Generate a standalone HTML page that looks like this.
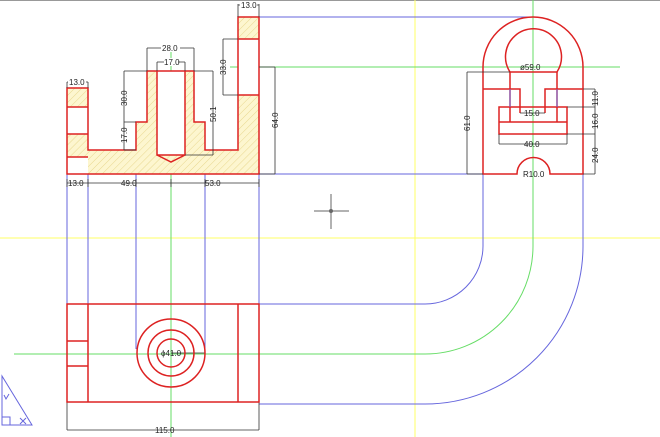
<!DOCTYPE html>
<html><head><meta charset="utf-8"><style>
html,body{margin:0;padding:0;background:#fff;}
svg{display:block;}
text{font-family:"Liberation Sans",sans-serif;font-size:8px;fill:#222;}
</style></head><body>
<svg width="660" height="437" viewBox="0 0 660 437" xmlns="http://www.w3.org/2000/svg">
<defs>
<pattern id="h" patternUnits="userSpaceOnUse" width="5" height="5" patternTransform="rotate(45)">
<rect width="5" height="5" fill="#fdf6cf"/><line x1="0" y1="0" x2="0" y2="5" stroke="#e8d890" stroke-width="1"/>
</pattern>
</defs>
<line x1="0" y1="0.5" x2="660" y2="0.5" stroke="#999"/>
<!-- yellow axes -->
<line x1="0" y1="238" x2="660" y2="238" stroke="#ffff66"/>
<line x1="415" y1="0" x2="415" y2="437" stroke="#ffff66"/>
<!-- green center lines -->
<line x1="171" y1="48" x2="171" y2="437" stroke="#66dd66"/>
<line x1="230" y1="67" x2="620" y2="67" stroke="#66dd66"/>
<line x1="533" y1="0" x2="533" y2="246" stroke="#66dd66"/>
<path d="M533 246 A108 108 0 0 1 425 354 L14 354" fill="none" stroke="#66dd66"/>
<!-- blue projection -->
<g stroke="#6666dd" fill="none">
<line x1="259" y1="17" x2="533" y2="17"/>
<line x1="259" y1="174" x2="484" y2="174"/>
<line x1="67" y1="174" x2="67" y2="304"/>
<line x1="88" y1="174" x2="88" y2="304"/>
<line x1="136" y1="174" x2="136" y2="349"/>
<line x1="205" y1="174" x2="205" y2="349"/>
<line x1="259" y1="174" x2="259" y2="304"/>
<path d="M483 174 L483 246 A58 58 0 0 1 425 304 L259 304"/>
<path d="M583 174 L583 246 A158 158 0 0 1 425 404 L259 404"/>
<path d="M2 376 L2 425 L32 425 Z"/>
<path d="M2 417 H10 V425 M20 418 L26 424 M26 418 L20 424 M4 395 L6 399 L9 394"/>
</g>
<!-- front view -->
<path d="M67 88 H88 V150 H136 V122 H147 V71 H194 V122 H205 V150 H238 V17 H259 V174 H67 Z" fill="url(#h)" stroke="none"/>
<rect x="157" y="71" width="28" height="84" fill="#fff"/>
<rect x="67" y="107" width="21" height="27" fill="#fff"/>
<rect x="67" y="157" width="21" height="17" fill="#fff"/>
<rect x="238" y="39" width="21" height="56" fill="#fff"/>
<g stroke="#dd2222" stroke-width="1.5" fill="none">
<path d="M67 88 H88 V150 H136 V122 H147 V71 H194 V122 H205 V150 H238 V17 H259 V174 H67 Z"/>
<path d="M67 107 H88 M67 134 H88 M67 157 H88 M238 39 H259 M238 95 H259"/>
<path d="M157 71 V155 H185 V71 M157 155 L171 162 L185 155"/>
</g>
<!-- front dims -->
<g stroke="#333" stroke-width="0.8" fill="none">
<path d="M238 17 V4 M259 17 V4 M238 5 H259"/>
<path d="M147 71 V48 M194 71 V48 M147 48 H194"/>
<path d="M157 71 V62 M185 71 V62 M157 62 H185"/>
<path d="M67 88 V82 M88 88 V82 M67 82 H88"/>
<path d="M124 71 H147 M124 122 H136 M124 150 H136 M124 71 V150"/>
<path d="M194 71 H213 M185 155 H213 M213 71 V155"/>
<path d="M223 39 H238 M223 95 H238 M223 39 V95"/>
<path d="M259 67 H275 M259 174 H275 M275 67 V174"/>
<path d="M67 183 H259 M67 179 V187 M88 179 V187 M136 179 V187 M171 179 V187 M205 179 V187 M259 179 V187"/>
<path d="M67 402 V430 M259 402 V430 M67 430 H259"/>
<path d="M171 353 H205"/>
</g>
<g>
<rect x="240" y="1" width="17" height="8" fill="#fff"/><text x="241" y="8">13.0</text>
<rect x="161" y="44" width="19" height="8" fill="#fff"/><text x="162" y="51">28.0</text>
<rect x="164" y="58" width="14" height="8" fill="#fff"/><text x="164" y="65">17.0</text>
<rect x="68" y="78" width="18" height="8" fill="#fff"/><text x="69" y="85">13.0</text>
<text x="68" y="186">13.0</text><text x="121" y="186">49.0</text><text x="205" y="186">53.0</text>
<text transform="translate(127,106) rotate(-90)">30.0</text>
<text transform="translate(127,143) rotate(-90)">17.0</text>
<text transform="translate(216,122) rotate(-90)">50.1</text>
<text transform="translate(226,75) rotate(-90)">33.0</text>
<text transform="translate(278,128) rotate(-90)">64.0</text>
<text x="155" y="433">115.0</text>
</g>
<!-- side view -->
<g stroke="#dd2222" stroke-width="1.5" fill="none">
<path d="M483 174 V67 A50 50 0 0 1 583 67 V174 H550 A16.5 16.5 0 0 0 517 174 Z"/>
<path d="M510 72 A28 28 0 1 1 557 72 Z"/>
<path d="M510 72 V122 M557 72 V122"/>
<path d="M483 89 H520 V113 M583 89 H545 V113"/>
<rect x="499" y="107" width="68" height="27"/>
<path d="M499 122 H567"/>
</g>
<g stroke="#6666dd"><path d="M510 89 V107 M557 89 V107"/></g>
<g stroke="#333" stroke-width="0.8" fill="none">
<path d="M467 72 H510 M467 174 H483 M467 72 V174"/>
<path d="M583 89 H595 M567 107 H595 M567 134 H595 M583 174 H595 M595 89 V174"/>
<path d="M499 134 V144 M567 134 V144 M499 144 H567"/>
<path d="M520 113 H545"/>
</g>
<g>
<text x="520" y="70">ø59.0</text>
<text x="524" y="116">15.0</text>
<text x="524" y="147">40.0</text>
<text x="523" y="177">R10.0</text>
<text transform="translate(470,131) rotate(-90)">61.0</text>
<text transform="translate(598,106) rotate(-90)">11.0</text>
<text transform="translate(598,129) rotate(-90)">16.0</text>
<text transform="translate(598,163) rotate(-90)">24.0</text>
</g>
<!-- plan view -->
<g stroke="#dd2222" stroke-width="1.5" fill="none">
<rect x="67" y="304" width="192" height="98"/>
<path d="M88 304 V402 M238 304 V402 M67 341 H88 M67 366 H88"/>
<circle cx="171" cy="353" r="34"/>
<circle cx="171" cy="353" r="23"/>
<circle cx="171" cy="353" r="14"/>
</g>
<text x="161" y="356">ϕ41.0</text>
<!-- crosshair -->
<g stroke="#666"><path d="M314 211 H349 M331 194 V229"/></g>
<circle cx="331" cy="211" r="2" fill="#666"/>
</svg>
</body></html>
